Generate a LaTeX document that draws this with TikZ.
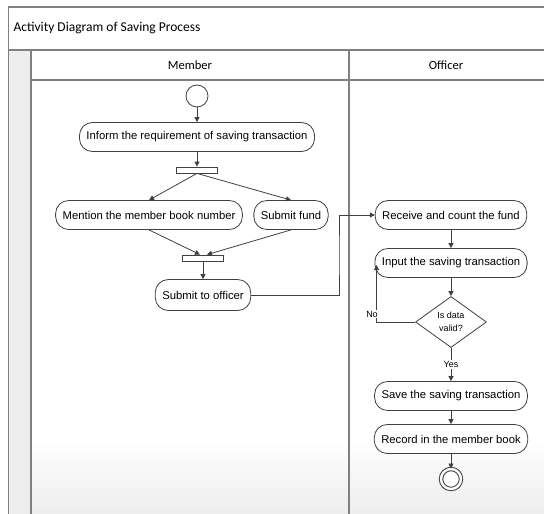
\documentclass[tikz,border=0pt]{standalone}
\usepackage{fontspec}
\setmainfont{Liberation Sans}
\newfontfamily\calib{Carlito}
\usetikzlibrary{arrows.meta,shapes.geometric}
\begin{document}
\begin{tikzpicture}[x=1pt, y=-1pt,
  act/.style={rectangle, rounded corners=13pt, draw=black!75, line width=0.8pt, fill=white, minimum height=29pt, inner xsep=7pt, inner ysep=0pt, font=\fontsize{11.3}{13}\selectfont},
  bar/.style={rectangle, draw=black!75, line width=0.8pt, fill=white, minimum width=41pt, minimum height=6pt, inner sep=0pt},
  dec/.style={diamond, aspect=1.4, draw=black!75, line width=0.8pt, fill=white, minimum width=71pt, minimum height=51pt, inner sep=0pt, align=center, font=\fontsize{9}{13}\selectfont},
  ini/.style={circle, draw=black!75, line width=0.8pt, fill=white, minimum size=22pt, inner sep=0pt},
  fin/.style={circle, draw=black!75, line width=1pt, double=white, double distance=2.4pt, fill=white, minimum size=20pt, inner sep=0pt},
  ed/.style={draw=black!75, line width=0.8pt, -{Triangle[length=5pt,width=5pt]}},
  ln/.style={draw=black!50, line width=1.3pt},
  hd/.style={font=\calib\fontsize{12.5}{14}\selectfont},
  lbl/.style={font=\fontsize{9}{11}\selectfont, inner sep=1pt, fill=white}]
\useasboundingbox (0,0) rectangle (544,514);
% swimlane frame: grey strip on the left, faded bottom of both lanes
\fill[black!7] (8.5,50) rectangle (31,514);
\shade[top color=white, bottom color=black!7] (31,440) rectangle (544,514);
\draw[ln] (8.5,514) -- (8.5,7) -- (544,7);
\draw[ln] (8.5,50) -- (544,50);
\draw[ln] (31,80) -- (544,80);
\draw[ln] (31,50) -- (31,514);
\draw[ln] (349,50) -- (349,514);
\node[hd, font=\calib\fontsize{13.5}{15}\selectfont, anchor=west] (ttl) at (10,28) {Activity Diagram of Saving Process};
\node[hd] (hmem) at (190,65) {Member};
\node[hd] (hoff) at (446,65) {Officer};
% member lane
\node[ini] (st) at (197,96) {};
\node[act] (inf) at (197,137) {Inform the requirement of saving transaction};
\node[bar] (fk) at (197,170) {};
\node[act] (men) at (149,215) {Mention the member book number};
\node[act] (fnd) at (291,215) {Submit fund};
\node[bar] (jn) at (203,258) {};
\node[act, minimum height=31pt] (sto) at (203,295) {Submit to officer};
% officer lane
\node[act] (rec) at (451,215) {Receive and count the fund};
\node[act] (inp) at (451,263) {Input the saving transaction};
\node[dec] (dv) at (451,322) {Is data\\valid?};
\node[act] (sav) at (451,396) {Save the saving transaction};
\node[act] (rcd) at (451,439) {Record in the member book};
\node[fin] (en) at (451,479) {};
\coordinate (k1) at (339,255);
\draw[ed] (st) -- (inf);
\draw[ed] (inf) -- (fk);
\draw[ed] (fk.south) -- (men.north);
\draw[ed] (fk.south) -- (fnd.north);
\draw[ed] (men.south) -- ([xshift=-3pt]jn.north);
\draw[ed] (fnd.south) -- ([xshift=4pt]jn.north);
\draw[ed] (jn) -- (sto);
\draw[ed] (sto.east) -| (k1) |- (rec.west);
\draw[ed] (rec) -- (inp);
\draw[ed] (inp) -- (dv);
\draw[ed] (dv.west) -| ([xshift=2pt,yshift=-2pt]inp.west);
\node[lbl] (lno) at (372,314) {No};
\draw[ed] (dv.south) -- node[lbl] (lys) {Yes} (sav.north);
\draw[ed] (sav) -- (rcd);
\draw[ed] (rcd) -- (en);
\end{tikzpicture}
\end{document}
